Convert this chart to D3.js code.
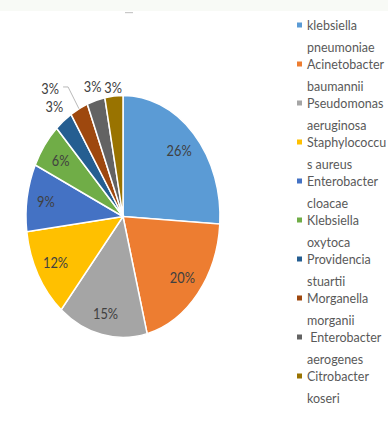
<!DOCTYPE html>
<html>
<head>
<meta charset="utf-8">
<script src="https://d3js.org/d3.v7.min.js"></script>
<style>
  html, body { margin: 0; padding: 0; background: #fff; }
  svg { display: block; }
  text { font-family: Lato, "Open Sans", sans-serif; }
</style>
</head>
<body>
<div id="chart"></div>
<script>
// data
var names = [
  ["klebsiella", "pneumoniae"],
  ["Acinetobacter", "baumannii"],
  ["Pseudomonas", "aeruginosa"],
  ["Staphylococcu", "s aureus"],
  ["Enterobacter", "cloacae"],
  ["Klebsiella", "oxytoca"],
  ["Providencia", "stuartii"],
  ["Morganella", "morganii"],
  [" Enterobacter", "aerogenes"],
  ["Citrobacter", "koseri"]
];
var values = [26, 20, 15, 12, 9, 6, 3, 3, 3, 3];
var labels = ["26%", "20%", "15%", "12%", "9%", "6%", "3%", "3%", "3%", "3%"];
var colors = ["#5b9bd5", "#ed7d31", "#a5a5a5", "#ffc000", "#4472c4",
              "#70ad47", "#255e91", "#9e480e", "#636363", "#997300"];

const W = 388, H = 421;
const cx = 123, cy = 216.5, R = 97, SY = 1.247;  // the picture is stretched vertically

var svg = d3.select("#chart").append("svg")
  .attr("width", W).attr("height", H);

// pale band at the top with the bit of cut-off title
svg.append("rect").attr("x", 0).attr("y", 0).attr("width", W).attr("height", 11)
  .attr("fill", "#f8faf6");
svg.append("rect").attr("x", 125).attr("y", 12).attr("width", 8).attr("height", 1.2)
  .attr("fill", "#c8c8c8");

var idx = d3.range(values.length);
var pie = d3.pie().sort(null).value(function(i){ return values[i]; });
var arc = d3.arc().innerRadius(0).outerRadius(R);
var arcs = pie(idx);

var g = svg.append("g")
  .attr("transform", "translate(" + cx + "," + cy + ") scale(1," + SY + ")");

g.selectAll("path")
  .data(arcs)
  .enter()
  .append("path")
  .attr("d", arc)
  .attr("fill", function(d){ return colors[d.data]; })
  .attr("stroke", "#fff")
  .attr("stroke-width", 1.5)
  .attr("vector-effect", "non-scaling-stroke");

// label placement: inside for big slices, outside for the small ones
function pos(a, r) {
  return [cx + Math.sin(a) * r, cy - Math.cos(a) * r * SY];
}
var labelR = [77, 77, 80, 77, 78, 77, 112, 0, 109, 104];
var lab = arcs.map(function(d) {
  var mid = (d.startAngle + d.endAngle) / 2;
  var p = pos(mid, labelR[d.data]);
  return { i: d.data, mid: mid, x: p[0], y: p[1] };
});
// Morganella label is pushed out with a leader line
var mg = lab[7];
var elbow = pos(mg.mid - 0.015, 117.5);
var tip = pos(mg.mid, R);
mg.x = elbow[0] - 18; mg.y = elbow[1] + 1;
svg.append("polyline")
  .attr("points", [tip, elbow, [elbow[0] - 5, elbow[1]]].map(function(p){ return p.join(","); }).join(" "))
  .attr("fill", "none")
  .attr("stroke", "#a6a6a6")
  .attr("stroke-width", 0.8);

svg.selectAll("text.lbl")
  .data(lab)
  .enter()
  .append("text")
  .attr("class", "lbl")
  .attr("transform", function(d){ return "translate(" + d.x + "," + d.y + ") scale(1,1.22)"; })
  .attr("text-anchor", "middle")
  .attr("dy", "0.36em")
  .attr("font-size", 12.8)
  .attr("fill", "#404040")
  .text(function(d){ return labels[d.i]; });

// legend
var lg = svg.append("g").attr("class", "legend");
var item = lg.selectAll("g")
  .data(idx)
  .enter()
  .append("g")
  .attr("transform", function(i){ return "translate(297," + (30 + i * 39) + ")"; });

item.append("rect")
  .attr("x", 0).attr("y", -7.5)
  .attr("width", 5).attr("height", 5)
  .attr("fill", function(i){ return colors[i]; });

item.selectAll("text")
  .data(function(i){ return names[i]; })
  .enter()
  .append("text")
  .attr("transform", function(t, j){ return "translate(10," + (j * 22) + ") scale(1,1.12)"; })
  .attr("font-size", 12.5)
  .attr("fill", "#595959")
  .style("white-space", "pre")
  .text(function(t){ return t; });
</script>
</body>
</html>
